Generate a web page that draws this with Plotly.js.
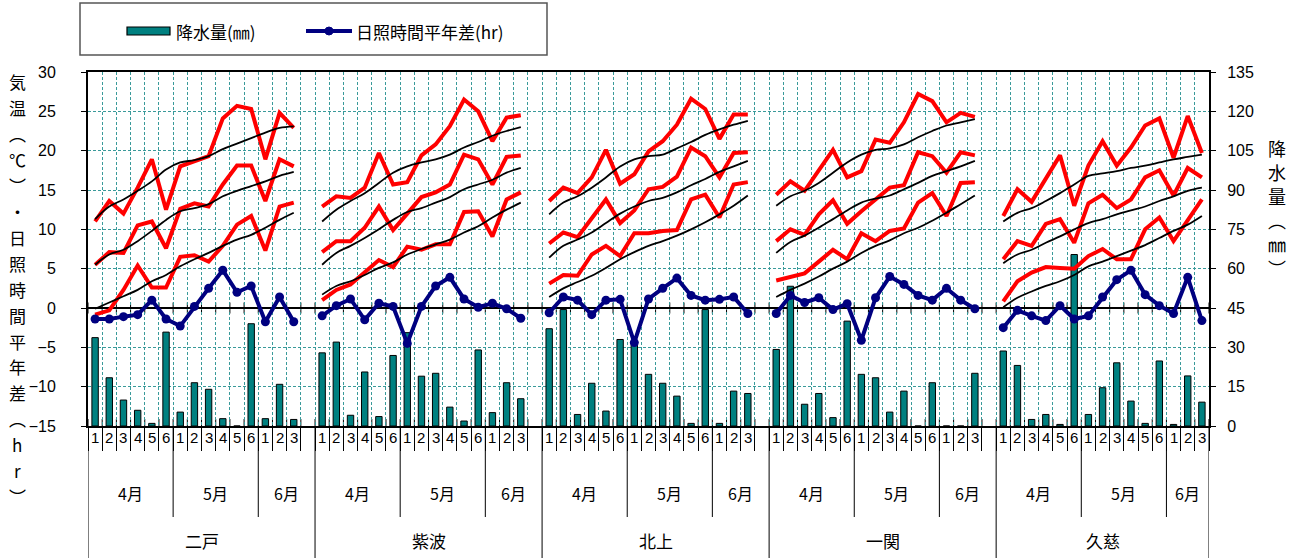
<!DOCTYPE html>
<html>
<head>
<meta charset="utf-8">
<script src="https://cdn.plot.ly/plotly-3.0.1.min.js"></script>
<style>
html,body{margin:0;padding:0;background:#fff;}
#chart{width:1298px;height:558px;}
</style>
</head>
<body>
<div id="chart"></div>
<script>
// ---------------- data ----------------
const stations = ['二戸', '紫波', '北上', '一関', '久慈'];
const months = ['4月', '5月', '6月'];
const pentadsPerMonth = [6, 6, 3];
const pentadLabels = ['1','2','3','4','5','6','1','2','3','4','5','6','1','2','3'];

// 降水量 (mm) – right axis
const precipitation = [
  [33.7, 18.4, 9.9, 6.0, 1.0, 35.8, 5.3, 16.5, 14.0, 2.8, 0, 39.0, 2.8, 15.9, 2.5],
  [27.9, 32.0, 4.1, 20.6, 3.6, 26.9, 35.6, 19.0, 20.1, 7.2, 1.9, 29.0, 5.1, 16.5, 10.4],
  [37.1, 44.4, 4.4, 16.3, 5.7, 33.0, 31.1, 19.7, 16.3, 11.4, 1.0, 44.4, 1.0, 13.3, 12.4],
  [29.2, 53.3, 8.3, 12.4, 3.2, 40.0, 19.7, 18.4, 5.3, 13.3, 0, 16.5, 0, 0, 20.1],
  [28.6, 23.1, 2.5, 4.4, 0.6, 65.4, 4.4, 14.6, 24.1, 9.5, 1.0, 24.8, 0.6, 19.1, 9.1]
];
// 日照時間平年差 (hr)
const sunshineDiff = [
  [-1.4, -1.4, -1.1, -0.85, 1.0, -1.4, -2.3, 0.2, 2.5, 4.8, 2.0, 2.8, -1.75, 1.4, -1.75],
  [-1.0, 0.3, 1.15, -1.5, 0.6, 0.2, -4.5, 0.2, 2.8, 3.9, 1.15, 0.1, 0.6, -0.1, -1.3],
  [-0.6, 1.4, 1.0, -0.85, 1.0, 1.1, -4.4, 1.15, 2.5, 3.8, 1.6, 1.0, 1.1, 1.4, -0.7],
  [-0.7, 1.6, 0.7, 1.3, -0.2, 0.55, -4.1, 1.3, 4.0, 3.0, 1.6, 1.0, 2.5, 1.0, -0.1],
  [-2.5, -0.3, -1.0, -1.6, 0.3, -1.4, -1.0, 1.4, 3.6, 4.8, 1.7, 0.3, -0.7, 3.9, -1.6]
];
// 最高気温 (℃)
const tempMax = [
  [11.0, 13.6, 12.0, 15.3, 18.9, 12.5, 18.0, 18.7, 19.3, 24.1, 25.7, 25.3, 18.9, 24.8, 22.9],
  [12.9, 14.2, 14.0, 15.3, 19.7, 15.7, 16.0, 19.4, 20.8, 23.1, 26.5, 25.0, 21.2, 24.2, 24.5],
  [13.6, 15.3, 14.6, 16.6, 20.1, 15.8, 17.0, 19.9, 21.2, 23.3, 26.6, 25.3, 21.5, 24.6, 24.6],
  [14.4, 16.1, 14.9, 17.6, 20.1, 16.6, 17.4, 21.4, 21.0, 23.6, 27.2, 26.3, 23.6, 24.8, 24.3],
  [11.7, 15.1, 13.5, 16.4, 19.4, 13.0, 18.1, 21.2, 18.1, 20.4, 23.2, 24.1, 19.1, 24.4, 19.7]
];
// 平均気温 (℃)
const tempMean = [
  [5.5, 7.1, 7.0, 10.5, 11.0, 7.6, 12.6, 13.3, 12.9, 15.7, 18.1, 18.1, 13.6, 18.9, 18.0],
  [7.1, 8.5, 8.5, 10.2, 12.9, 9.9, 12.0, 14.1, 14.7, 15.7, 19.5, 18.9, 15.7, 19.2, 19.4],
  [8.2, 9.6, 9.0, 11.5, 13.8, 10.8, 12.4, 15.1, 15.4, 16.7, 20.4, 19.3, 16.6, 19.7, 19.8],
  [8.5, 10.0, 9.3, 11.9, 13.7, 10.7, 12.3, 13.8, 15.3, 15.6, 19.8, 19.3, 17.2, 19.8, 19.4],
  [6.2, 8.5, 7.9, 10.7, 11.3, 8.3, 13.3, 14.4, 12.7, 13.8, 16.6, 17.5, 14.3, 17.8, 16.6]
];
// 最低気温 (℃)
const tempMin = [
  [-0.85, -0.3, 2.3, 5.4, 2.6, 2.6, 6.5, 6.7, 5.9, 7.9, 10.6, 11.7, 7.3, 12.9, 13.4],
  [1.0, 2.3, 3.0, 4.5, 6.1, 5.2, 7.8, 7.4, 8.1, 8.1, 12.2, 12.3, 9.1, 13.8, 14.7],
  [3.1, 4.2, 4.1, 6.8, 7.9, 6.6, 9.5, 9.5, 9.8, 9.9, 13.8, 14.4, 11.5, 15.7, 16.0],
  [3.5, 3.9, 4.4, 5.9, 7.4, 6.2, 9.5, 8.5, 9.8, 10.1, 13.4, 14.6, 11.7, 15.9, 16.0],
  [0.85, 3.4, 4.5, 5.2, 5.1, 5.0, 6.6, 7.5, 6.2, 6.2, 10.0, 11.5, 8.5, 11.2, 13.8]
];
// 平年値 (℃)
const normalMax = [
  [11.3, 12.9, 13.8, 14.9, 16.1, 17.6, 18.5, 18.8, 19.3, 20.2, 20.9, 21.6, 22.3, 22.9, 23.1],
  [11.0, 12.5, 13.6, 14.6, 15.9, 17.2, 18.0, 18.5, 18.9, 19.5, 20.4, 21.1, 21.9, 22.5, 23.0],
  [11.9, 13.4, 14.2, 15.3, 16.6, 18.0, 18.9, 19.3, 19.5, 20.3, 21.1, 22.0, 22.7, 23.3, 23.8],
  [13.0, 14.2, 14.9, 15.9, 17.2, 18.5, 19.5, 20.1, 20.3, 20.8, 21.7, 22.5, 23.2, 23.6, 24.0],
  [11.0, 12.1, 12.7, 13.6, 14.6, 15.7, 16.8, 17.1, 17.4, 17.8, 18.1, 18.5, 18.9, 19.2, 19.5]
];
const normalMean = [
  [5.5, 6.8, 7.4, 8.5, 9.8, 11.2, 12.3, 12.7, 13.2, 14.2, 14.9, 15.5, 16.1, 16.8, 17.3],
  [5.5, 7.0, 7.9, 8.9, 10.0, 11.2, 12.2, 12.7, 13.4, 14.1, 15.1, 15.7, 16.3, 17.2, 17.8],
  [6.4, 7.9, 8.7, 9.6, 10.8, 12.0, 12.9, 13.6, 14.0, 14.7, 15.6, 16.4, 17.3, 18.0, 18.7],
  [7.0, 8.4, 9.2, 10.2, 11.3, 12.4, 13.4, 13.9, 14.3, 15.1, 15.9, 16.8, 17.4, 18.0, 18.7],
  [5.7, 6.8, 7.4, 8.3, 9.1, 10.0, 10.8, 11.3, 11.9, 12.4, 12.9, 13.6, 14.2, 14.9, 15.3]
];
const normalMin = [
  [-0.1, 0.7, 1.5, 2.3, 3.4, 4.2, 5.3, 6.2, 7.0, 7.9, 8.7, 9.3, 10.2, 11.2, 12.1],
  [1.7, 2.8, 3.4, 4.2, 5.1, 5.8, 6.8, 7.5, 8.1, 8.7, 9.6, 10.4, 11.5, 12.5, 13.4],
  [1.4, 2.5, 3.3, 4.1, 5.1, 6.2, 7.1, 7.9, 8.5, 9.2, 10.0, 10.9, 11.9, 13.0, 14.3],
  [1.4, 2.3, 3.1, 4.0, 5.0, 5.9, 7.0, 7.9, 8.6, 9.5, 10.2, 11.1, 12.1, 13.2, 14.3],
  [0.1, 1.3, 2.1, 2.8, 3.4, 4.2, 5.3, 5.9, 6.6, 7.3, 8.0, 8.9, 9.8, 10.6, 11.7]
];
const leftTitleChars = ['気','温','︵','℃','︶','・','日','照','時','間','平','年','差','︵','h','r','︶'];
const rightTitleChars = ['降','水','量','︵','㎜','︶'];

// ---------------- layout helpers ----------------
const SLOTS = 16;                                   // 15 pentads + 1 blank slot per station
const nSlots = stations.length * SLOTS - 1;         // no blank after the last station
const xs = Array.from({length: nSlots}, (_, i) => i);
function spread(series) {
  const out = new Array(nSlots).fill(null);
  series.forEach((arr, s) => arr.forEach((v, k) => { out[s * SLOTS + k] = v; }));
  return out;
}
const boundaries = Array.from({length: nSlots + 1}, (_, i) => i - 0.5);

const W = 1298, H = 558;
const M = {l: 88, r: 89, t: 72, b: 132};
const plotW = W - M.l - M.r, plotH = H - M.t - M.b;
const py = p => (H - M.b - p) / plotH;     // pixel row -> paper y
const pxx = p => (p - M.l) / plotW;        // pixel col -> paper x

const NUMFONT = '"Liberation Sans", Arial, sans-serif';
const JPFONT = '"Noto Sans CJK JP", "Noto Sans", sans-serif';
const GRID = '#3a9a9a';

// ---------------- traces ----------------
const traces = [];
traces.push({
  type: 'bar', x: xs, y: spread(precipitation), yaxis: 'y', name: '降水量(㎜)',
  width: 0.45, marker: {color: '#008080', line: {color: '#000', width: 1}},
  showlegend: false, hoverinfo: 'y'
});
[tempMax, tempMean, tempMin].forEach(series => traces.push({
  type: 'scatter', mode: 'lines', x: xs, y: spread(series), yaxis: 'y2',
  line: {color: '#ff0000', width: 4}, connectgaps: false, showlegend: false, hoverinfo: 'y'
}));
[normalMax, normalMean, normalMin].forEach(series => traces.push({
  type: 'scatter', mode: 'lines', x: xs, y: spread(series), yaxis: 'y2',
  line: {color: '#000', width: 1.8, shape: 'spline', smoothing: 1}, connectgaps: false,
  showlegend: false, hoverinfo: 'y'
}));
traces.push({
  type: 'scatter', mode: 'lines+markers', x: xs, y: spread(sunshineDiff), yaxis: 'y2',
  name: '日照時間平年差(hr)', line: {color: '#000080', width: 4},
  marker: {color: '#000080', size: 9}, connectgaps: false, showlegend: false, hoverinfo: 'y'
});

// ---------------- shapes & annotations ----------------
const shapes = [];
const annotations = [];

// cross ticks at the zero line and inside ticks at the bottom
boundaries.forEach(b => {
  shapes.push({type: 'line', xref: 'x', yref: 'y2', x0: b, x1: b, y0: -0.7, y1: 0.7,
               line: {color: '#000', width: 1}, layer: 'below'});
  shapes.push({type: 'line', xref: 'x', yref: 'paper', x0: b, x1: b, y0: 0, y1: 7 / plotH,
               line: {color: '#000', width: 1}, layer: 'below'});
});

stations.forEach((name, s) => {
  const start = s * SLOTS - 0.5;
  const end = (s === stations.length - 1) ? nSlots - 0.5 : (s + 1) * SLOTS - 0.5;
  shapes.push({type: 'line', xref: 'x', yref: 'paper', x0: start, x1: start, y0: 0, y1: py(H),
               line: {color: '#000', width: 1}});
  if (s === stations.length - 1) {
    shapes.push({type: 'line', xref: 'x', yref: 'paper', x0: end, x1: end, y0: 0, y1: py(H),
                 line: {color: '#000', width: 1}});
  }
  annotations.push({xref: 'x', yref: 'paper', x: (start + end) / 2, y: py(540), text: name,
                    xanchor: 'center', yanchor: 'middle',
                    showarrow: false, font: {family: JPFONT, size: 17, color: '#000'}});
  let k0 = 0;
  months.forEach((m, mi) => {
    const mStart = s * SLOTS + k0 - 0.5;
    const mEnd = (mi === months.length - 1) ? end : mStart + pentadsPerMonth[mi];
    if (mi > 0) {
      shapes.push({type: 'line', xref: 'x', yref: 'paper', x0: mStart, x1: mStart, y0: 0, y1: py(517),
                   line: {color: '#000', width: 1}});
    }
    annotations.push({xref: 'x', yref: 'paper', x: (mStart + mEnd) / 2, y: py(493), text: m,
                      xanchor: 'center', yanchor: 'middle',
                      showarrow: false, font: {family: JPFONT, size: 16, color: '#000'}});
    k0 += pentadsPerMonth[mi];
  });
  pentadLabels.forEach((lab, k) => {
    annotations.push({xref: 'x', yref: 'paper', x: s * SLOTS + k, y: py(438), text: lab,
                      xanchor: 'center', yanchor: 'middle',
                      showarrow: false, font: {family: NUMFONT, size: 15, color: '#000'}});
  });
});

// axis titles (vertical text, one character per row)
leftTitleChars.forEach((ch, i) => {
  annotations.push({xref: 'paper', yref: 'paper', x: pxx(17), y: py(82 + i * 25.9), text: ch,
                    xanchor: 'center', yanchor: 'middle',
                    showarrow: false, font: {family: JPFONT, size: 17, color: '#000'}});
});
rightTitleChars.forEach((ch, i) => {
  annotations.push({xref: 'paper', yref: 'paper', x: pxx(1277), y: py(148 + i * 24), text: ch,
                    xanchor: 'center', yanchor: 'middle',
                    showarrow: false, font: {family: JPFONT, size: 18, color: '#000'}});
});

// legend box
shapes.push({type: 'rect', xref: 'paper', yref: 'paper', x0: pxx(80), x1: pxx(547), y0: py(55), y1: py(3),
             line: {color: '#555', width: 1.5}, fillcolor: '#fff'});
shapes.push({type: 'rect', xref: 'paper', yref: 'paper', x0: pxx(127), x1: pxx(170), y0: py(35), y1: py(27),
             line: {color: '#000', width: 1.2}, fillcolor: '#008080'});
annotations.push({xref: 'paper', yref: 'paper', x: pxx(174), y: py(31), xanchor: 'left', yanchor: 'middle',
                  text: '降水量(㎜)', showarrow: false, font: {family: JPFONT, size: 17, color: '#000'}});
shapes.push({type: 'line', xref: 'paper', yref: 'paper', x0: pxx(306), x1: pxx(352), y0: py(31), y1: py(31),
             line: {color: '#000080', width: 4}});
shapes.push({type: 'circle', xref: 'paper', yref: 'paper', xsizemode: 'pixel', ysizemode: 'pixel',
             xanchor: pxx(329), yanchor: py(31), x0: -4, x1: 4, y0: -4, y1: 4,
             line: {color: '#000080', width: 1}, fillcolor: '#000080'});
annotations.push({xref: 'paper', yref: 'paper', x: pxx(354), y: py(31), xanchor: 'left', yanchor: 'middle',
                  text: '日照時間平年差(hr)', showarrow: false, font: {family: JPFONT, size: 17, color: '#000'}});

const layout = {
  width: W, height: H,
  margin: M,
  paper_bgcolor: '#fff', plot_bgcolor: '#fff',
  showlegend: false,
  bargap: 0,
  xaxis: {
    range: [-0.5, nSlots - 0.5], tickvals: boundaries, showticklabels: false,
    ticks: 'outside', ticklen: 23, tickwidth: 1, tickcolor: '#000',
    showgrid: true, gridcolor: GRID, griddash: '3px,2px', gridwidth: 1,
    showline: true, linecolor: '#000', linewidth: 2, mirror: true, zeroline: false
  },
  yaxis: {
    side: 'right', range: [0, 135], tickvals: [0,15,30,45,60,75,90,105,120,135],
    ticks: 'outside', ticklen: 5, tickcolor: '#000',
    showgrid: true, gridcolor: GRID, griddash: '3px,2px', gridwidth: 1,
    showline: true, linecolor: '#000', linewidth: 2, zeroline: false,
    tickfont: {family: NUMFONT, size: 16, color: '#000'}, ticklabelstandoff: 8
  },
  yaxis2: {
    overlaying: 'y', side: 'left', range: [-15, 30], tickvals: [-15,-10,-5,0,5,10,15,20,25,30],
    ticks: 'outside', ticklen: 5, tickcolor: '#000',
    showgrid: false, zeroline: true, zerolinecolor: '#000', zerolinewidth: 1.5,
    showline: true, linecolor: '#000', linewidth: 2,
    tickfont: {family: NUMFONT, size: 16, color: '#000'}, ticklabelstandoff: 22
  },
  shapes: shapes,
  annotations: annotations
};

Plotly.newPlot('chart', traces, layout, {displayModeBar: false, staticPlot: true});
</script>
</body>
</html>
